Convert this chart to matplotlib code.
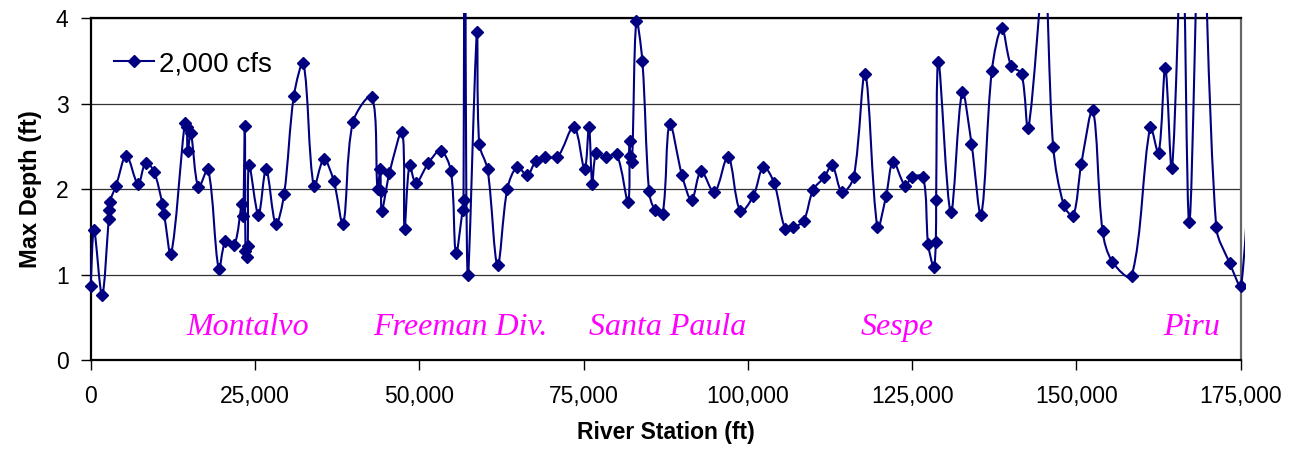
import numpy as np
import matplotlib
matplotlib.use("Agg")
import matplotlib.pyplot as plt
from matplotlib.path import Path
from matplotlib.patches import PathPatch
from matplotlib.lines import Line2D
from matplotlib.transforms import Bbox, TransformedBbox

# river station (ft) and max depth (ft)
station = [
    0, 500, 1720, 2740, 2800, 2890, 3850, 5420, 7200, 8370,
    9640, 10900, 11160, 12230, 14310, 14600, 14750, 15230, 16390, 17860,
    19490, 20500, 21870, 23000, 23200, 23450, 23550, 23750, 23900, 24100,
    25520, 26690, 28160, 29430, 30910, 32370, 33950, 35470, 36990, 38410,
    39890, 42800, 43640, 44050, 44150, 44300, 45460, 47400, 47750, 48510,
    49480, 51350, 53230, 54810, 55570, 56580, 56730, 56950, 57340, 58770,
    59120, 60390, 61910, 63390, 64910, 66430, 67750, 69120, 70990, 73530,
    75150, 75820, 76320, 76930, 78350, 80020, 81760, 82010, 82050, 82370,
    83020, 83940, 84950, 85810, 87030, 88100, 89980, 91440, 92880, 94900,
    96990, 98860, 100840, 102360, 103990, 105710, 106930, 108500, 109930, 111650,
    112820, 114340, 116110, 117840, 119720, 121040, 122110, 123930, 124990, 126670,
    127430, 128290, 128600, 128650, 129000, 130880, 132610, 134030, 135500, 137120,
    138640, 140070, 141640, 142660, 145100, 146470, 148080, 149510, 150730, 152500,
    153970, 155450, 158390, 161230, 162500, 163520, 164530, 166100, 167180, 168950,
    171280, 173350, 175080, 177000,
]
depth = [
    0.87, 1.52, 0.76, 1.65, 1.75, 1.85, 2.04, 2.39, 2.06, 2.31,
    2.20, 1.83, 1.71, 1.24, 2.77, 2.73, 2.44, 2.65, 2.02, 2.23,
    1.06, 1.39, 1.35, 1.83, 1.68, 2.74, 1.27, 1.21, 1.33, 2.28,
    1.70, 2.23, 1.59, 1.94, 3.09, 3.47, 2.03, 2.35, 2.09, 1.59,
    2.78, 3.08, 2.00, 2.23, 1.98, 1.74, 2.19, 2.67, 1.53, 2.28,
    2.07, 2.30, 2.45, 2.21, 1.25, 1.75, 1.87, 8.00, 0.99, 3.84,
    2.53, 2.23, 1.11, 2.00, 2.26, 2.16, 2.33, 2.38, 2.37, 2.73,
    2.23, 2.73, 2.06, 2.42, 2.37, 2.41, 1.85, 2.56, 2.39, 2.32,
    3.96, 3.50, 1.98, 1.76, 1.71, 2.76, 2.16, 1.87, 2.21, 1.96,
    2.38, 1.74, 1.92, 2.26, 2.07, 1.53, 1.55, 1.63, 1.99, 2.14,
    2.28, 1.96, 2.14, 3.35, 1.55, 1.92, 2.32, 2.04, 2.14, 2.14,
    1.36, 1.09, 1.38, 1.87, 3.49, 1.73, 3.13, 2.53, 1.70, 3.38,
    3.88, 3.44, 3.35, 2.71, 4.50, 2.49, 1.81, 1.69, 2.29, 2.92,
    1.51, 1.15, 0.98, 2.72, 2.42, 3.42, 2.24, 5.00, 1.61, 5.50,
    1.55, 1.13, 0.87, 3.50,
]

place_names = ["Montalvo", "Freeman Div.", "Santa Paula", "Sespe", "Piru"]
place_station = [23950, 56260, 87750, 122650, 167600]
place_depth = [0.29, 0.29, 0.29, 0.29, 0.29]

xticks = [0, 25000, 50000, 75000, 100000, 125000, 150000, 175000]
xtick_labels = ["0", "25,000", "50,000", "75,000", "100,000", "125,000", "150,000", "175,000"]
yticks = [0, 1, 2, 3, 4]

navy = "#000080"
plt.rcParams["font.family"] = ["Liberation Sans", "DejaVu Sans"]

fig = plt.figure(figsize=(13, 4.49), dpi=100)
ax = fig.add_axes([0.0698, 0.1982, 0.8846, 0.7617])
ax.set_xlim(0, 175000)
ax.set_ylim(0, 4)

# smoothed line like Excel: bezier segments, tangents weighted by
# segment lengths measured on screen so short hops don't overshoot
x = np.array(station, dtype=float)
y = np.array(depth, dtype=float)
pts = np.column_stack([x, y])
scr = ax.transData.transform(pts)
ext = np.vstack([pts[0], pts, pts[-1]])
sext = np.vstack([scr[0], scr, scr[-1]])
verts = [pts[0]]
codes = [Path.MOVETO]
for i in range(len(pts) - 1):
    p0, p1, p2, p3 = ext[i], ext[i + 1], ext[i + 2], ext[i + 3]
    s0, s1, s2, s3 = sext[i], sext[i + 1], sext[i + 2], sext[i + 3]
    d01 = np.hypot(*(s1 - s0))
    d12 = np.hypot(*(s2 - s1))
    d23 = np.hypot(*(s3 - s2))
    w1 = d12 / (d01 + d12) / 3 if d01 > 0 else 1 / 6
    w2 = d12 / (d12 + d23) / 3 if d23 > 0 else 1 / 6
    verts += [p1 + (p2 - p0) * w1, p2 - (p3 - p1) * w2, p2]
    codes += [Path.CURVE4] * 3
curve = PathPatch(Path(verts, codes), facecolor="none", edgecolor=navy, lw=1.5, zorder=3)
ax.add_patch(curve)

marks, = ax.plot(station, depth, "D", color=navy, markersize=6.3, zorder=4)

clip = TransformedBbox(Bbox([[-0.01, -0.02], [1.004, 1.015]]), ax.transAxes)
for art in (curve, marks):
    art.set_clip_path(None)
    art.set_clip_box(clip)

for name, sx, sy in zip(place_names, place_station, place_depth):
    ax.text(sx, sy, name, ha="center", va="baseline", color="#FF00FF",
            fontsize=23, style="italic", family=["Liberation Serif", "DejaVu Serif"])

ax.set_xticks(xticks)
ax.set_xticklabels(xtick_labels)
ax.set_yticks(yticks)
ax.tick_params(axis="both", direction="out", length=7, width=1, labelsize=16.5, pad=9)
ax.tick_params(axis="x", pad=11)
ax.yaxis.grid(True, color="#333333", lw=0.9)
ax.set_axisbelow(True)
for side in ax.spines:
    ax.spines[side].set_linewidth(1.6)
    ax.spines[side].set_color("black")
ax.spines["right"].set_color("#666666")

ax.set_xlabel("River Station (ft)", fontsize=16.5, fontweight="bold", labelpad=9)
ax.set_ylabel("Max Depth (ft)", fontsize=17, fontweight="bold", labelpad=10)

handle = Line2D([], [], color=navy, lw=1.5, marker="D", markersize=6.3)
ax.legend(handles=[handle], labels=["2,000 cfs"], loc="upper left",
          bbox_to_anchor=(0.003, 0.96), frameon=False, fontsize=20,
          handlelength=1.45, handletextpad=0.2, borderpad=0.2)

fig.savefig("out.png", dpi=100)
